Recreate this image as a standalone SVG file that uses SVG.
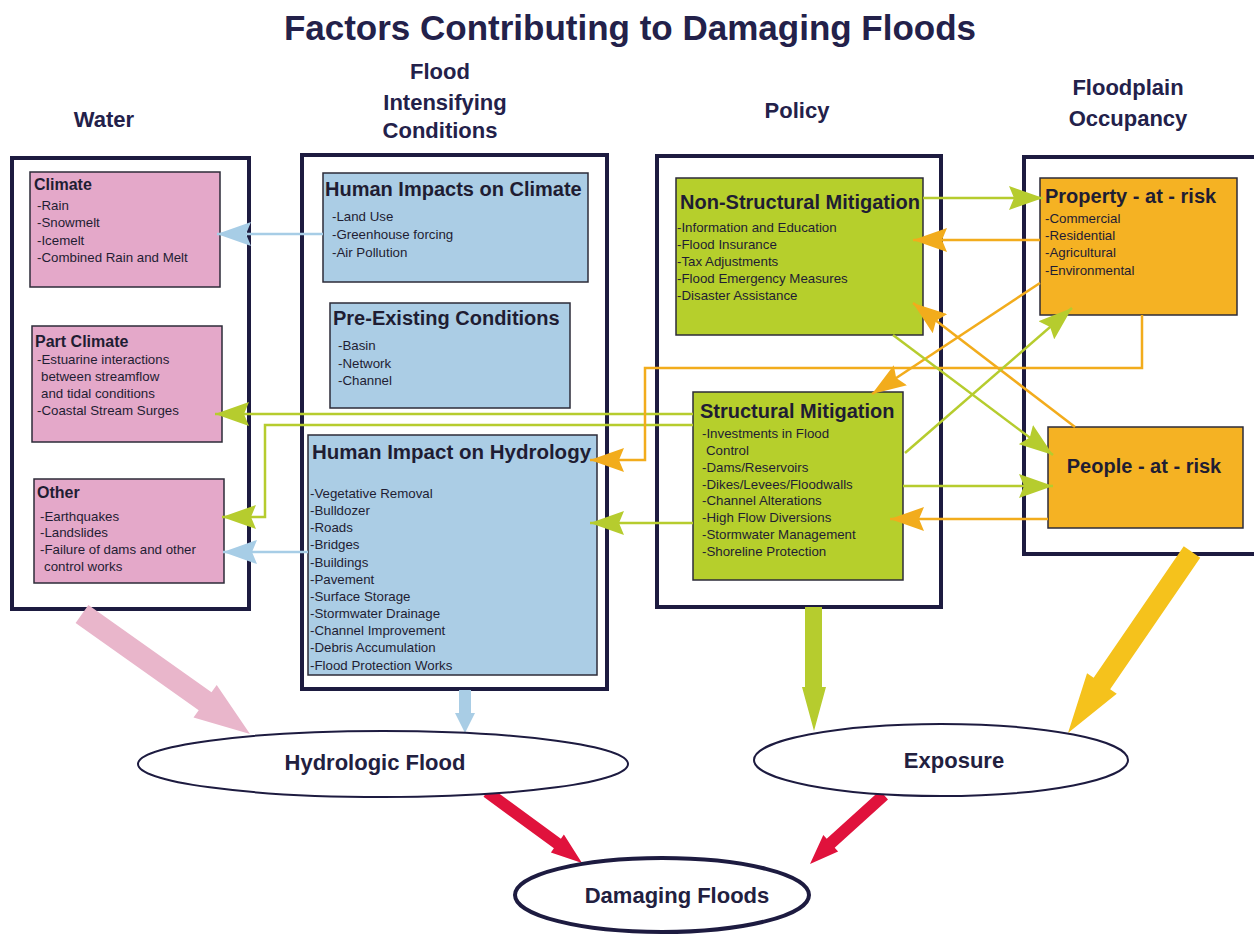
<svg xmlns="http://www.w3.org/2000/svg" width="1254" height="935" viewBox="0 0 1254 935">
<style>
text{font-family:"Liberation Sans",Arial,sans-serif;fill:#1f1d33}
.ttl{font-size:35px;font-weight:bold;fill:#23214a}
.hdr{font-size:22px;font-weight:bold;fill:#23214a;text-anchor:middle}
.frame{fill:#fff;stroke:#1d1b40;stroke-width:4}
.bx{stroke:#2c2b38;stroke-width:1.5}
.pink{fill:#e4a8c9}
.blue{fill:#abcde5}
.green{fill:#b6cf2c}
.orange{fill:#f5b223}
.t16{font-size:16px;font-weight:bold}
.t20{font-size:20px;font-weight:bold}
.it{font-size:13.3px}
.ln{fill:none;stroke-width:2.5}
.lg{stroke:#b6cc2e}
.lo{stroke:#f2ac1c}
.lb{stroke:#a7cde6}
.ell{fill:#fff;stroke:#1d1b40;stroke-width:2}
.et{font-size:22px;font-weight:bold;fill:#22203f;text-anchor:middle}
</style>
<defs>
<marker id="ag" markerUnits="userSpaceOnUse" markerWidth="34" markerHeight="24" refX="34" refY="12" orient="auto"><path d="M0,0 L34,12 L0,24 L5,12 z" fill="#b6cc2e"/></marker>
<marker id="ao" markerUnits="userSpaceOnUse" markerWidth="34" markerHeight="24" refX="34" refY="12" orient="auto"><path d="M0,0 L34,12 L0,24 L5,12 z" fill="#f2ac1c"/></marker>
<marker id="ab" markerUnits="userSpaceOnUse" markerWidth="34" markerHeight="24" refX="34" refY="12" orient="auto"><path d="M0,0 L34,12 L0,24 L5,12 z" fill="#a7cde6"/></marker>
</defs>
<rect width="1254" height="935" fill="#fff"/>
<text class="ttl" x="630" y="40" text-anchor="middle">Factors Contributing to Damaging Floods</text>
<g id="headers">
<text class="hdr" x="104" y="127">Water</text>
<text class="hdr" x="440" y="79">Flood</text>
<text class="hdr" x="445" y="110">Intensifying</text>
<text class="hdr" x="440" y="138">Conditions</text>
<text class="hdr" x="797" y="118">Policy</text>
<text class="hdr" x="1128" y="95">Floodplain</text>
<text class="hdr" x="1128" y="126">Occupancy</text>
</g>
<g id="water-frame"><rect class="frame" x="12" y="158" width="237" height="451"/></g>
<g id="fic-frame"><rect class="frame" x="302" y="155" width="305" height="534"/></g>
<g id="policy-frame"><rect class="frame" x="657" y="156" width="284" height="451"/></g>
<g id="floodplain-frame"><rect class="frame" x="1024" y="157" width="240" height="397"/></g>
<g id="climate">
<rect class="bx pink" x="30" y="172" width="190" height="115"/>
<text class="t16" x="34" y="190">Climate</text>
<text class="it" x="37" y="210">-Rain</text>
<text class="it" x="37" y="227">-Snowmelt</text>
<text class="it" x="37" y="245">-Icemelt</text>
<text class="it" x="37" y="262">-Combined Rain and Melt</text>
</g>
<g id="part-climate">
<rect class="bx pink" x="32" y="326" width="190" height="116"/>
<text class="t16" x="35" y="347">Part Climate</text>
<text class="it" x="37" y="364">-Estuarine interactions</text>
<text class="it" x="41" y="381">between streamflow</text>
<text class="it" x="41" y="398">and tidal conditions</text>
<text class="it" x="37" y="415">-Coastal Stream Surges</text>
</g>
<g id="other">
<rect class="bx pink" x="34" y="479" width="190" height="104"/>
<text class="t16" x="37" y="498">Other</text>
<text class="it" x="40" y="521">-Earthquakes</text>
<text class="it" x="40" y="537">-Landslides</text>
<text class="it" x="40" y="554">-Failure of dams and other</text>
<text class="it" x="44" y="571">control works</text>
</g>
<g id="human-impacts-climate">
<rect class="bx blue" x="323" y="173" width="265" height="109"/>
<text class="t20" x="325" y="196">Human Impacts on Climate</text>
<text class="it" x="332" y="221">-Land Use</text>
<text class="it" x="332" y="239">-Greenhouse forcing</text>
<text class="it" x="332" y="257">-Air Pollution</text>
</g>
<g id="pre-existing">
<rect class="bx blue" x="330" y="303" width="240" height="105"/>
<text class="t20" x="333" y="325">Pre-Existing Conditions</text>
<text class="it" x="338" y="350">-Basin</text>
<text class="it" x="338" y="368">-Network</text>
<text class="it" x="338" y="385">-Channel</text>
</g>
<g id="human-impact-hydrology">
<rect class="bx blue" x="308" y="435" width="289" height="240"/>
<text class="t20" x="312" y="459" style="font-size:20.5px">Human Impact on Hydrology</text>
<text class="it" x="310" y="498">-Vegetative Removal</text>
<text class="it" x="310" y="515">-Bulldozer</text>
<text class="it" x="310" y="532">-Roads</text>
<text class="it" x="310" y="549">-Bridges</text>
<text class="it" x="310" y="567">-Buildings</text>
<text class="it" x="310" y="584">-Pavement</text>
<text class="it" x="310" y="601">-Surface Storage</text>
<text class="it" x="310" y="618">-Stormwater Drainage</text>
<text class="it" x="310" y="635">-Channel Improvement</text>
<text class="it" x="310" y="652">-Debris Accumulation</text>
<text class="it" x="310" y="670">-Flood Protection Works</text>
</g>
<g id="non-structural">
<rect class="bx green" x="676" y="178" width="247" height="157"/>
<text class="t20" x="680" y="209">Non-Structural Mitigation</text>
<text class="it" x="677" y="232">-Information and Education</text>
<text class="it" x="677" y="249">-Flood Insurance</text>
<text class="it" x="677" y="266">-Tax Adjustments</text>
<text class="it" x="677" y="283">-Flood Emergency  Measures</text>
<text class="it" x="677" y="300">-Disaster Assistance</text>
</g>
<g id="structural">
<rect class="bx green" x="693" y="392" width="210" height="188"/>
<text class="t20" x="700" y="418">Structural Mitigation</text>
<text class="it" x="702" y="438">-Investments in Flood</text>
<text class="it" x="706" y="455">Control</text>
<text class="it" x="702" y="472">-Dams/Reservoirs</text>
<text class="it" x="702" y="489">-Dikes/Levees/Floodwalls</text>
<text class="it" x="702" y="505">-Channel Alterations</text>
<text class="it" x="702" y="522">-High Flow Diversions</text>
<text class="it" x="702" y="539">-Stormwater Management</text>
<text class="it" x="702" y="556">-Shoreline Protection</text>
</g>
<g id="property">
<rect class="bx orange" x="1040" y="178" width="197" height="137"/>
<text class="t20" x="1045" y="203">Property - at - risk</text>
<text class="it" x="1045" y="223">-Commercial</text>
<text class="it" x="1045" y="240">-Residential</text>
<text class="it" x="1045" y="257">-Agricultural</text>
<text class="it" x="1045" y="275">-Environmental</text>
</g>
<g id="people">
<rect class="bx orange" x="1048" y="427" width="195" height="101"/>
<text class="t20" x="1144" y="473" text-anchor="middle">People - at - risk</text>
</g>
<g id="connectors">
<path class="ln lb" d="M323,234 L217,234" marker-end="url(#ab)"/>
<path class="ln lb" d="M308,552 L223,552" marker-end="url(#ab)"/>
<path class="ln lg" d="M693,414 L215,414" marker-end="url(#ag)"/>
<path class="ln lg" d="M693,425 L265,425 L265,517 L222,517" marker-end="url(#ag)"/>
<path class="ln lg" d="M693,523 L590,523" marker-end="url(#ag)"/>
<path class="ln lo" d="M1142,315 L1142,368 L645,368 L645,460 L590,460" marker-end="url(#ao)"/>
<path class="ln lg" d="M923,198 L1043,198" marker-end="url(#ag)"/>
<path class="ln lo" d="M1040,240 L913,240" marker-end="url(#ao)"/>
<path class="ln lo" d="M1075,427 L913,303" marker-end="url(#ao)"/>
<path class="ln lo" d="M1040,283 L872,394" marker-end="url(#ao)"/>
<path class="ln lg" d="M905,453 L1072,308" marker-end="url(#ag)"/>
<path class="ln lg" d="M893,335 L1053,455" marker-end="url(#ag)"/>
<path class="ln lg" d="M903,486 L1053,486" marker-end="url(#ag)"/>
<path class="ln lo" d="M1048,519 L890,519" marker-end="url(#ao)"/>
</g>
<g id="block-arrows">
<polygon fill="#e9b6cb" points="75.6,623 198.7,710.2 193.5,717.5 250,734 216.7,684.9 211.5,692.2 88.4,605"/>
<polygon fill="#a9cde5" points="459,690 459,713 455,713 465,733 475,713 471,713 471,690"/>
<polygon fill="#b6cc2e" points="805,607 805,687 802,687 814,731 826,687 822,687 822,607"/>
<polygon fill="#f5c21c" points="1183.75,546.35 1093.65,677.85 1087.05,673.33 1068,733 1116.75,693.67 1110.15,689.15 1200.25,557.65"/>
<polygon fill="#e0123c" points="483.5,796.8 553.9,848.3 550.9,852.4 582,863 563.9,834.6 560.9,838.7 490.5,787.2"/>
<polygon fill="#e0123c" points="880,790.6 826.7,838.8 823.3,835.1 810,864 838.1,851.4 834.7,847.7 888,799.5"/>
</g>
<g id="hydrologic-flood">
<ellipse class="ell" cx="383" cy="764" rx="245" ry="33"/>
<text class="et" x="375" y="770">Hydrologic Flood</text>
</g>
<g id="exposure">
<ellipse class="ell" cx="941" cy="760" rx="187" ry="36"/>
<text class="et" x="954" y="768">Exposure</text>
</g>
<g id="damaging-floods">
<ellipse class="ell" style="stroke-width:4" cx="662" cy="895" rx="147" ry="37"/>
<text class="et" x="677" y="903">Damaging Floods</text>
</g>
</svg>
